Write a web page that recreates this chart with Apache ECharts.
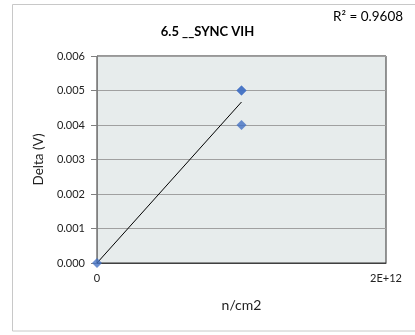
<!DOCTYPE html>
<html>
<head>
<meta charset="utf-8">
<script src="https://cdn.jsdelivr.net/npm/echarts@6/dist/echarts.min.js"></script>
<style>
html,body{margin:0;padding:0;background:#fff;}
#c{width:415px;height:335px;}
</style>
</head>
<body>
<div id="c"></div>
<script>
// Data
var xValues = [0, 1e12, 1e12, 1e12];
var yValues = [0, 0.005, 0.005, 0.004];
var xTickLabels = {0: '0', 2000000000000: '2E+12'};
var titleText = '6.5 __SYNC VIH';
var xName = 'n/cm2';
var yName = 'Delta (V)';

// linear regression (trendline)
var n = xValues.length, mx = 0, my = 0;
for (var i = 0; i < n; i++) { mx += xValues[i]; my += yValues[i]; }
mx /= n; my /= n;
var sxy = 0, sxx = 0, syy = 0;
for (var i = 0; i < n; i++) {
  sxy += (xValues[i] - mx) * (yValues[i] - my);
  sxx += (xValues[i] - mx) * (xValues[i] - mx);
  syy += (yValues[i] - my) * (yValues[i] - my);
}
var slope = sxy / sxx, intercept = my - slope * mx;
var r2 = (sxy * sxy) / (sxx * syy);
var xmin = Math.min.apply(null, xValues), xmax = Math.max.apply(null, xValues);
var trend = [[xmin, intercept + slope * xmin], [xmax, intercept + slope * xmax]];

var pts = xValues.map(function (x, i) { return [x, yValues[i]]; });
var font = 'Lato, "Open Sans", sans-serif';

var chart = echarts.init(document.getElementById('c'), null, {renderer: 'canvas'});
chart.setOption({
  animation: false,
  backgroundColor: '#fff',
  graphic: [
    {type: 'rect', shape: {x: 12.5, y: 4.5, width: 420, height: 326.5}, style: {fill: 'none', stroke: '#C8C8C8', lineWidth: 1}, z: -10},
    {type: 'text', left: 333, top: 10, style: {text: 'R² = ' + r2.toFixed(4), font: '13.5px ' + font, fill: '#000'}}
  ],
  title: {
    text: titleText, left: 'center', top: 20,
    textStyle: {fontFamily: font, fontWeight: 'bold', fontSize: 13, color: '#000'}
  },
  grid: {
    left: 97, top: 56, width: 289, height: 207,
    show: true, backgroundColor: '#E7ECEC', borderColor: '#303030', borderWidth: 1
  },
  xAxis: {
    type: 'value', min: 0, max: 2e12, interval: 2e12,
    name: xName, nameLocation: 'middle', nameGap: 35,
    nameTextStyle: {fontFamily: font, fontSize: 14, color: '#222'},
    axisLine: {lineStyle: {color: '#404040'}},
    axisTick: {show: false},
    splitLine: {show: false},
    axisLabel: {formatter: function (v) { return xTickLabels[v] !== undefined ? xTickLabels[v] : ''; }, fontFamily: font, fontSize: 11, color: '#222', margin: 10}
  },
  yAxis: {
    type: 'value', min: 0, max: 0.006, interval: 0.001,
    name: yName, nameLocation: 'middle', nameGap: 50,
    nameTextStyle: {fontFamily: font, fontSize: 13.5, color: '#222'},
    axisLine: {show: true, lineStyle: {color: '#808080'}},
    axisTick: {show: true, length: 6, lineStyle: {color: '#808080'}},
    splitLine: {lineStyle: {color: '#A0A0A0', width: 1}},
    axisLabel: {formatter: function (v) { return v.toFixed(3); }, fontFamily: font, fontSize: 11, color: '#222', margin: 12}
  },
  series: [
    {type: 'line', data: trend, symbol: 'none', lineStyle: {color: '#000', width: 1}, z: 2, silent: true},
    {type: 'scatter', data: pts, symbol: 'diamond', symbolSize: 10, itemStyle: {color: '#4472C4'}, z: 3}
  ]
});
</script>
</body>
</html>
